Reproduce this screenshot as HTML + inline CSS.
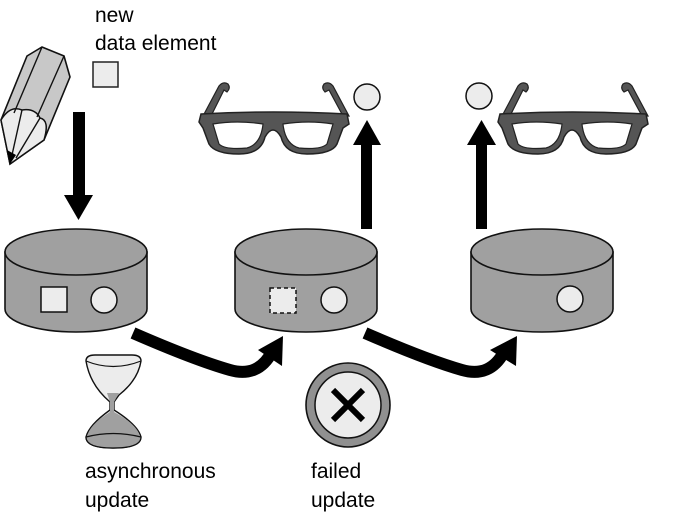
<!DOCTYPE html>
<html><head><meta charset="utf-8"><style>
html,body{margin:0;padding:0;background:#fff;}
svg{display:block;}
text{font-family:"Liberation Sans",sans-serif;font-size:21px;fill:#000;}
</style></head><body>
<svg width="676" height="516" viewBox="0 0 676 516" xmlns="http://www.w3.org/2000/svg">
<defs>
<g id="glasses">
 <path d="M6,34 L22,4 Q26,-1 31,2 Q34,6 30,10 L27,8 L14,34 Z" fill="#555" stroke="#222" stroke-width="1.2"/>
 <path d="M146,34 L132,8 L128,10 Q124,6 127,2 Q132,-1 136,4 L152,34 Z" fill="#555" stroke="#222" stroke-width="1.2"/>
 <path d="M2,40 L4,32 Q76,28 150,32 L152,42 L146,46 L140,62 Q135,72 110,72 Q88,72 84,55 Q80,48 76,48 Q72,48 68,55 Q64,72 42,72 Q18,72 12,62 L6,46 Z" fill="#555" stroke="#222" stroke-width="1.5"/>
 <path d="M16,42 Q40,38 66,42 Q64,62 50,66 Q28,68 22,62 Z" fill="#fff" stroke="#222" stroke-width="1.2"/>
 <path d="M86,42 Q112,38 136,42 L130,62 Q124,68 102,66 Q88,62 86,42 Z" fill="#fff" stroke="#222" stroke-width="1.2"/>
</g>
<g id="cyl">
 <path d="M-71,0 L-71,57 A71,23 0 0 0 71,57 L71,0 Z" fill="#a0a0a0" stroke="#111" stroke-width="1.6"/>
 <ellipse cx="0" cy="0" rx="71" ry="23" fill="#a0a0a0" stroke="#111" stroke-width="1.6"/>
</g>
</defs>

<text x="95" y="22">new</text>
<text x="95" y="50">data element</text>
<rect x="93" y="62" width="25" height="25" fill="#ececec" stroke="#222" stroke-width="1.5"/>

<!-- pencil -->
<path d="M27,56 L42,47 L64,56 L70,77 L44,140 L10,164 L1,120 Z" fill="#c8c8c8" stroke="#111" stroke-width="1.6"/>
<path d="M1,120 Q10,105 22,110 Q35,108 40,118 Q50,120 44,140 L10,164 Z" fill="#ececec" stroke="#111" stroke-width="1.5"/>
<path d="M42,47 L14,113 M64,56 L37,117 M22,110 L12,155 M40,118 L16,158" stroke="#111" stroke-width="1.4" fill="none"/>
<path d="M7,150 L16,155 L10,164 Z" fill="#000"/>

<!-- down arrow -->
<rect x="73" y="112" width="12" height="84" fill="#000"/>
<path d="M64,195 L93,195 L78.5,220 Z" fill="#000"/>

<!-- cylinders -->
<use href="#cyl" x="76" y="252"/>
<rect x="41" y="287" width="26" height="25" fill="#ececec" stroke="#111" stroke-width="1.5"/>
<circle cx="104" cy="300" r="13" fill="#ececec" stroke="#111" stroke-width="1.5"/>

<use href="#cyl" x="306" y="252"/>
<rect x="270" y="288" width="26" height="25" fill="#ececec" stroke="#111" stroke-width="1.5" stroke-dasharray="4,3"/>
<circle cx="334" cy="300" r="13" fill="#ececec" stroke="#111" stroke-width="1.5"/>

<use href="#cyl" x="542" y="252"/>
<circle cx="570" cy="299" r="13" fill="#ececec" stroke="#111" stroke-width="1.5"/>

<!-- up arrows -->
<rect x="361" y="143" width="11" height="86" fill="#000"/>
<path d="M353,145 L381,145 L367,120 Z" fill="#000"/>
<rect x="476" y="143" width="11" height="86" fill="#000"/>
<path d="M467,145 L496,145 L481.5,120 Z" fill="#000"/>

<circle cx="367" cy="97" r="13" fill="#ececec" stroke="#111" stroke-width="1.5"/>
<circle cx="479" cy="96" r="13" fill="#ececec" stroke="#111" stroke-width="1.5"/>

<use href="#glasses" x="197" y="82"/>
<use href="#glasses" x="496" y="82"/>

<!-- curved arrows -->
<path d="M133,333 Q195,360 230,370 Q258,378 272,352" fill="none" stroke="#000" stroke-width="12"/>
<path d="M258,350 L283,336 L282,366 Z" fill="#000"/>
<path d="M365,333 Q427,360 462,370 Q490,378 504,352" fill="none" stroke="#000" stroke-width="12"/>
<path d="M490,350 L517,336 L516,366 Z" fill="#000"/>

<!-- hourglass -->
<path d="M86,361 Q86,355 95,355 L132,355 Q141,355 141,361 Q138,380 119,395 L114,402 L114,410 Q138,425 141,437 Q141,448 113,448 Q86,448 86,437 Q89,425 110,410 L110,402 Q90,385 86,361 Z" fill="#ececec" stroke="#111" stroke-width="1.4"/>
<path d="M107,393 L119,393 L114,402 L114,412 Q138,425 140,437 Q130,442 113,442 Q96,442 87,437 Q89,425 110,412 L110,402 Z" fill="#a0a0a0"/>
<path d="M86,437 Q113,430 141,437 Q141,448 113,448 Q86,448 86,437 Z" fill="#a0a0a0" stroke="#111" stroke-width="1.2"/>
<path d="M86,361 Q113,372 141,361" fill="none" stroke="#111" stroke-width="1.2"/>

<!-- failed icon -->
<circle cx="348" cy="405" r="42" fill="#909090" stroke="#111" stroke-width="1.6"/>
<circle cx="348" cy="405" r="33" fill="#ececec" stroke="#111" stroke-width="1.5"/>
<path d="M333,390 L363,420 M363,390 L333,420" stroke="#000" stroke-width="6"/>

<text x="85" y="478">asynchronous</text>
<text x="85" y="507">update</text>
<text x="311" y="478">failed</text>
<text x="311" y="507">update</text>
</svg>
</body></html>
